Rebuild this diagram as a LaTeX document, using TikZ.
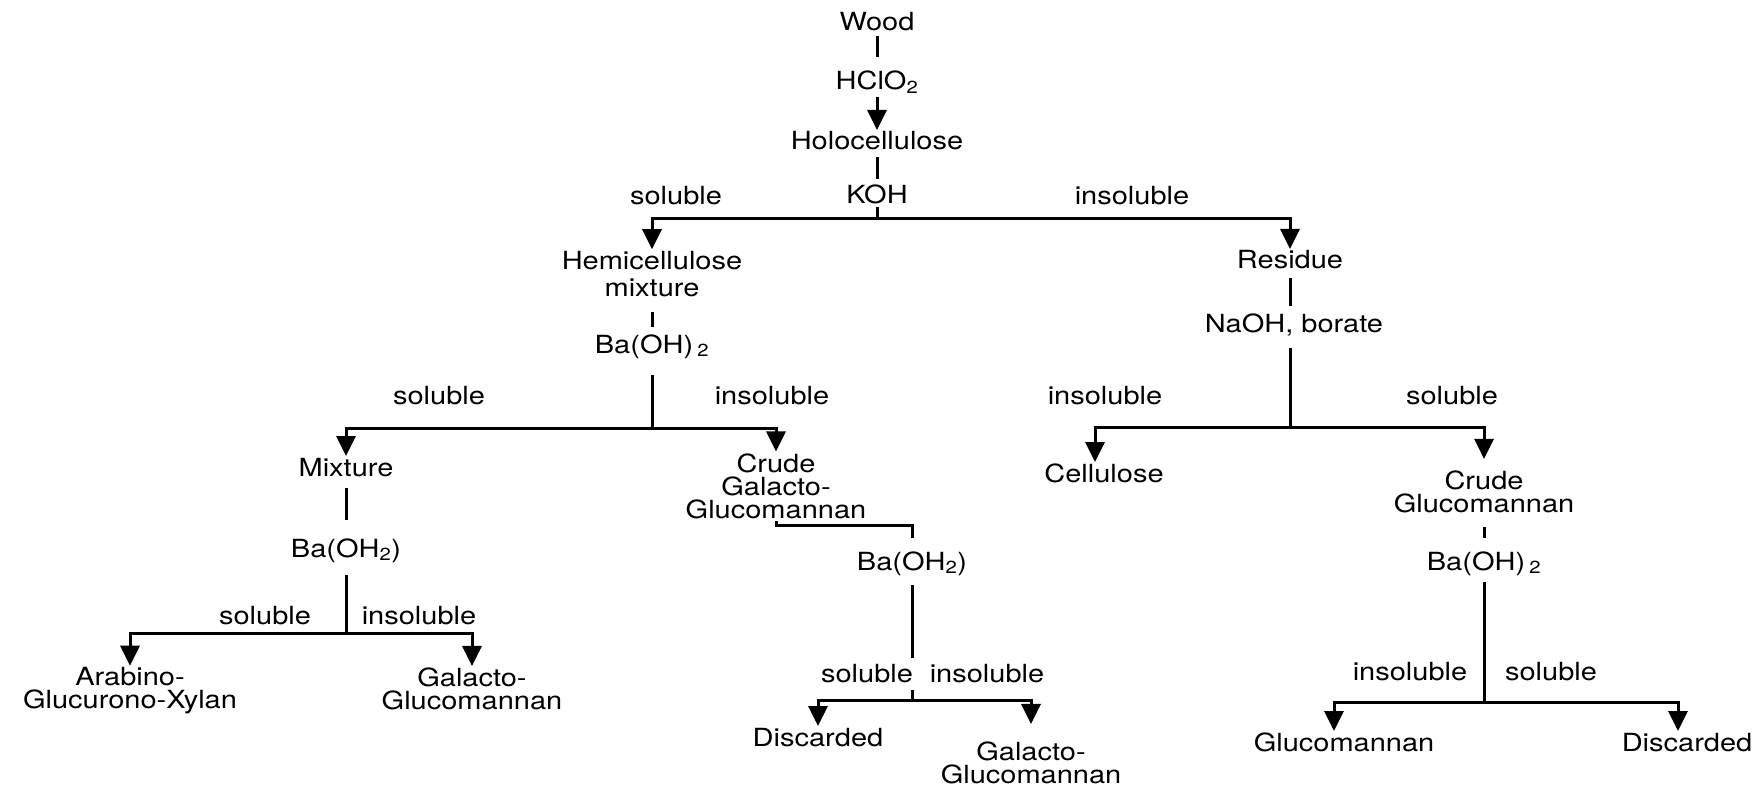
\documentclass[tikz,border=0pt]{standalone}
\usepackage{fontspec}
\setmainfont{TeX Gyre Heros}[FakeStretch=1.16]
\usepackage{tikz}
\usetikzlibrary{arrows.meta}

\begin{document}
\begin{tikzpicture}[x=1pt,y=-1pt,
	>={Triangle[width=19pt,length=20pt]},
	every node/.style={font=\fontsize{25}{23}\selectfont},
	txt/.style={inner sep=0pt, outer sep=2pt, text height=18pt, text depth=0pt},
	stack/.style={inner sep=0pt, outer sep=2pt, align=center},
	link/.style={line width=3pt},
	flow/.style={line width=3pt, ->}]
	\useasboundingbox (0,0) rectangle (1760,786);

	\node[txt] (wood) at (877,22) {Wood};
	\node[txt] (hclo) at (877,81) {HClO\textsubscript{2}};
	\node[txt] (holo) at (877,141) {Holocellulose};
	\node[txt] (koh) at (877,195) {KOH};
	\coordinate (j1) at (877,219);
	\node[txt] (sol1) at (676,196) {soluble};
	\node[txt] (insol1) at (1132,196) {insoluble};

	% hemicellulose branch
	\node[stack, font=\fontsize{25}{27}\selectfont] (hemi) at (652,274) {Hemicellulose\\mixture};
	\node[txt] (bo1) at (652,344) {Ba(OH)\,\textsubscript{2}};
	\coordinate (j2) at (652,428);
	\node[txt] (sol2) at (439,395) {soluble};
	\node[txt] (insol2) at (772,395) {insoluble};

	\node[txt] (mix) at (346,467) {Mixture};
	\node[txt] (bo2) at (346,548) {Ba(OH\textsubscript{2})};
	\coordinate (j4) at (346,633);
	\node[txt] (sol4) at (265,615) {soluble};
	\node[txt] (insol4) at (419,615) {insoluble};
	\node[stack] (agx) at (130,691) {Arabino-\\Glucurono-Xylan};
	\node[stack] (gg1) at (472,689) {Galacto-\\Glucomannan};

	\node[stack] (cgg) at (776,486) {Crude\\Galacto-\\Glucomannan};
	\coordinate (k3) at (912,525);
	\node[txt] (bo3) at (912,561) {Ba(OH\textsubscript{2})};
	\coordinate (c3) at (912,658);
	\coordinate (c3b) at (912,690);
	\coordinate (j3) at (912,700);
	\node[txt] (sol3) at (867,673) {soluble};
	\node[txt] (insol3) at (987,673) {insoluble};
	\node[txt] (disc1) at (818,737) {Discarded};
	\node[stack] (gg2) at (1031,763) {Galacto-\\Glucomannan};

	% residue branch
	\node[txt] (res) at (1290,260) {Residue};
	\node[txt] (naoh) at (1294,323) {NaOH, borate};
	\coordinate (j5) at (1290,427);
	\node[txt] (insol5) at (1105,395) {insoluble};
	\node[txt] (sol5) at (1452,395) {soluble};
	\node[txt] (cell) at (1104,473) {Cellulose};

	\node[stack] (cgm) at (1484,492) {Crude\\Glucomannan};
	\node[txt] (bo5) at (1484,561) {Ba(OH)\,\textsubscript{2}};
	\coordinate (j6) at (1484,702);
	\node[txt] (insol6) at (1410,671) {insoluble};
	\node[txt] (sol6) at (1551,671) {soluble};
	\node[txt] (gm) at (1344,742) {Glucomannan};
	\node[txt] (disc2) at (1687,742) {Discarded};

	\draw[link, shorten <=3pt, shorten >=13pt] (wood) -- (hclo);
	\draw[flow, shorten <=5pt] (hclo) -- (holo);
	\draw[link, shorten <=5pt, shorten >=5pt] (holo) -- (koh);
	\draw[link, shorten <=1pt] (koh) -- (j1);
	\draw[flow] (j1) -| (hemi);
	\draw[flow] (j1) -| (res);

	\draw[link, shorten <=13pt, shorten >=6pt] (hemi) -- (bo1);
	\draw[link, shorten <=20pt] (bo1) -- (j2);
	\draw[flow] (j2) -| (mix);
	\draw[flow] (j2) -| (cgg);

	\draw[link, shorten <=10pt, shorten >=17pt] (mix) -- (bo2);
	\draw[link, shorten <=16pt] (bo2) -- (j4);
	\draw[flow] (j4) -| (agx);
	\draw[flow] (j4) -| (gg1);

	\draw[link, shorten >=12pt] (cgg.south) |- (k3) -- (bo3);
	\draw[link, shorten <=13pt] (bo3) -- (c3);
	\draw[link] (c3b) -- (j3);
	\draw[flow] (j3) -| (disc1);
	\draw[flow, shorten >=16pt] (j3) -| (gg2);

	\draw[link, shorten <=7pt, shorten >=6pt] (res) -- (res |- naoh.north);
	\draw[link, shorten <=14pt] (naoh.south -| j5) -- (j5);
	\draw[flow] (j5) -| ([xshift=-9pt]cell.north);
	\draw[flow, shorten >=10pt] (j5) -| (cgm);

	\draw[link, shorten <=12pt, shorten >=12pt] (cgm) -- (bo5);
	\draw[link, shorten <=10pt] (bo5) -- (j6);
	\draw[flow] (j6) -| ([xshift=-10pt]gm.north);
	\draw[flow] (j6) -| ([xshift=-9pt]disc2.north);
\end{tikzpicture}
\end{document}
